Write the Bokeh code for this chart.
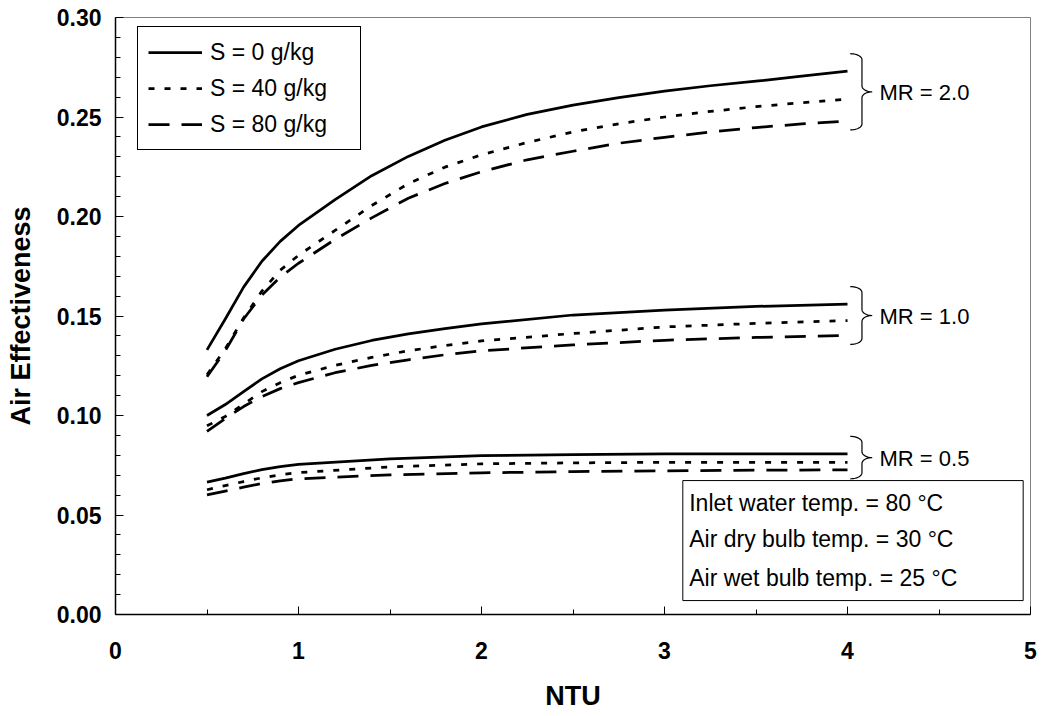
import numpy as np
from bokeh.plotting import figure
from bokeh.models import (Legend, LegendItem, NumeralTickFormatter, FixedTicker,
                          Range1d, BoxAnnotation)
from bokeh.core.properties import value
from bokeh.embed import file_html
from bokeh.resources import INLINE

# ---------------- data ----------------
ntu_mr20 = [0.5, 0.6, 0.7, 0.8, 0.9, 1.0, 1.2, 1.4, 1.6, 1.8, 2.0, 2.25, 2.5, 2.75,
            3.0, 3.25, 3.5, 3.75, 4.0]
mr20_s0 = [0.133, 0.1485, 0.1645, 0.1775, 0.1875, 0.1955, 0.2085, 0.2205, 0.2302, 0.2383,
           0.245, 0.2513, 0.256, 0.2597, 0.263, 0.2657, 0.268, 0.2705, 0.273]
mr20_s40 = [0.1205, 0.1335, 0.149, 0.1625, 0.173, 0.1805, 0.193, 0.2055, 0.2165, 0.2248,
            0.231, 0.2372, 0.2425, 0.2466, 0.250, 0.2528, 0.2552, 0.2572, 0.259]
mr20_s80 = [0.1195, 0.1325, 0.1485, 0.1605, 0.1695, 0.1765, 0.1885, 0.1993, 0.2092, 0.2166,
            0.2225, 0.2285, 0.2328, 0.2368, 0.2398, 0.2424, 0.2447, 0.2465, 0.248]

ntu_mr10 = [0.5, 0.6, 0.7, 0.8, 0.9, 1.0, 1.2, 1.4, 1.6, 1.8, 2.0, 2.5, 3.0, 3.5, 4.0]
mr10_s0 = [0.100, 0.1055, 0.112, 0.1184, 0.1235, 0.1275, 0.1333, 0.1377, 0.141, 0.1437,
           0.146, 0.1505, 0.153, 0.1548, 0.156]
mr10_s40 = [0.0948, 0.0995, 0.1057, 0.112, 0.1165, 0.1202, 0.1252, 0.1292, 0.1325, 0.1352,
            0.1375, 0.1412, 0.1445, 0.1463, 0.1477]
mr10_s80 = [0.092, 0.0985, 0.1045, 0.1095, 0.1135, 0.1165, 0.1215, 0.1252, 0.128, 0.1305,
            0.1325, 0.1355, 0.1378, 0.1392, 0.1402]

ntu_mr05 = [0.5, 0.6, 0.7, 0.8, 0.9, 1.0, 1.5, 2.0, 2.5, 3.0, 3.5, 4.0]
mr05_s0 = [0.0665, 0.0685, 0.0708, 0.0728, 0.0743, 0.0754, 0.0782, 0.0798, 0.0804, 0.0807,
           0.0807, 0.0807]
mr05_s40 = [0.0627, 0.0648, 0.0668, 0.0687, 0.0702, 0.0713, 0.0742, 0.0757, 0.0762, 0.0765,
            0.0765, 0.0765]
mr05_s80 = [0.0601, 0.062, 0.064, 0.0658, 0.0672, 0.0682, 0.0702, 0.0712, 0.0718, 0.0722,
            0.0725, 0.0727]

salinity_labels = ["S = 0 g/kg", "S = 40 g/kg", "S = 80 g/kg"]
mr_labels = ["MR = 2.0", "MR = 1.0", "MR = 0.5"]
info_lines = ["Inlet water temp. = 80 \u00b0C",
              "Air dry bulb temp. = 30 \u00b0C",
              "Air wet bulb temp. = 25 \u00b0C"]
x_ticks = [0, 1, 2, 3, 4, 5]
y_ticks = [0.0, 0.05, 0.10, 0.15, 0.20, 0.25, 0.30]
x_title = "NTU"
y_title = "Air Effectiveness"

# ---------------- figure ----------------
FONT = "Liberation Sans"
p = figure(width=1043, height=716, output_backend="svg", toolbar_location=None,
           x_range=Range1d(0, 5), y_range=Range1d(0, 0.30),
           min_border_left=115, min_border_right=13, min_border_top=17,
           min_border_bottom=102)
p.background_fill_color = "white"
p.border_fill_color = "white"
p.outline_line_color = "#7f7f7f"
p.outline_line_width = 1
p.xgrid.visible = False
p.ygrid.visible = False

for ax in (p.xaxis[0], p.yaxis[0]):
    ax.axis_line_color = "black"
    ax.axis_line_width = 1.5
    ax.major_tick_line_color = "black"
    ax.minor_tick_line_color = "black"
    ax.major_tick_line_width = 1
    ax.minor_tick_line_width = 1
    ax.major_tick_in = 8
    ax.major_tick_out = 0
    ax.minor_tick_in = 5
    ax.minor_tick_out = 0
    ax.major_label_text_font = FONT
    ax.major_label_text_font_style = "bold"
    ax.major_label_text_font_size = "23px"
    ax.major_label_text_color = "black"
    ax.axis_label_text_font = FONT
    ax.axis_label_text_font_style = "bold"
    ax.axis_label_text_font_size = "27px"
    ax.axis_label_text_color = "black"

p.xaxis.ticker = FixedTicker(ticks=x_ticks,
                             minor_ticks=list(np.arange(0.5, 5.0, 1.0)))
p.yaxis.ticker = FixedTicker(ticks=y_ticks,
                             minor_ticks=[round(v, 2) for v in np.arange(0.01, 0.30, 0.01)])
p.yaxis.formatter = NumeralTickFormatter(format="0.00")
p.xaxis.axis_label = x_title
p.yaxis.axis_label = y_title
p.xaxis.major_label_standoff = 27
p.xaxis.axis_label_standoff = 19
p.yaxis.major_label_standoff = 14
p.yaxis.axis_label_standoff = 18

styles = [dict(line_dash="solid"),
          dict(line_dash="6 10"),
          dict(line_dash="21 12")]
LW = 2.75

groups = [(ntu_mr20, [mr20_s0, mr20_s40, mr20_s80]),
          (ntu_mr10, [mr10_s0, mr10_s40, mr10_s80]),
          (ntu_mr05, [mr05_s0, mr05_s40, mr05_s80])]

legend_renderers = []
for gi, (xs, series) in enumerate(groups):
    for si, ys in enumerate(series):
        r = p.line(xs, ys, line_color="black", line_width=LW, line_join="round",
                   **styles[si])
        if gi == 0:
            legend_renderers.append(r)

# ---------------- braces with MR labels ----------------
def brace(x0, top, bot, dx=0.064, tip=0.12, r=0.003, r2=0.003):
    x1 = x0 + dx
    x2 = x0 + tip
    mid = (top + bot) / 2.0
    t = np.linspace(0, np.pi / 2, 12)
    xs, ys = [], []
    xs += list(x0 + dx * np.sin(t)); ys += list(top - r + r * np.cos(t))
    xs += list(x2 - (x2 - x1) * np.cos(t)); ys += list(mid + r2 - r2 * np.sin(t))
    xs += list(x2 - (x2 - x1) * np.sin(t)); ys += list(mid - r2 + r2 * np.cos(t))
    xs += list(x0 + dx * np.cos(t)); ys += list(bot + r - r * np.sin(t))
    return xs, ys, mid

for (xs, series), lab in zip(groups, mr_labels):
    x_end = xs[-1]
    top = max(s[-1] for s in series) + 0.0088
    bot = min(s[-1] for s in series) - 0.0045
    bx, by, mid = brace(x_end + 0.015, top, bot)
    p.line(bx, by, line_color="black", line_width=1.2)
    p.text(x=[x_end + 0.175], y=[mid - 0.0005], text=[lab], text_font=value(FONT),
           text_font_size="22px", text_baseline="middle", text_align="left",
           text_color="black")

# ---------------- info box ----------------
p.add_layout(BoxAnnotation(left=3.10, right=4.96, bottom=0.007, top=0.0673,
                           fill_color="white", fill_alpha=1.0,
                           line_color="black", line_alpha=1.0, line_width=1,
                           level="underlay"))
p.text(x=[3.135] * 3, y=[0.0562, 0.0379, 0.0185], text=info_lines,
       text_font=value(FONT), text_font_size="23px", text_baseline="middle",
       text_align="left", text_color="black")

# ---------------- legend ----------------
legend = Legend(items=[LegendItem(label=l, renderers=[r])
                       for l, r in zip(salinity_labels, legend_renderers)],
                location=(22, 464), orientation="vertical")
legend.border_line_color = "black"
legend.border_line_width = 1
legend.border_line_alpha = 1.0
legend.background_fill_color = "white"
legend.background_fill_alpha = 1.0
legend.padding = 10
legend.spacing = 6
legend.margin = 0
legend.glyph_width = 54
legend.glyph_height = 30
legend.label_height = 30
legend.label_width = 140
legend.label_standoff = 8
legend.label_text_font = FONT
legend.label_text_font_size = "23px"
legend.label_text_color = "black"
p.add_layout(legend)

open("out.html", "w").write(file_html(p, INLINE))
